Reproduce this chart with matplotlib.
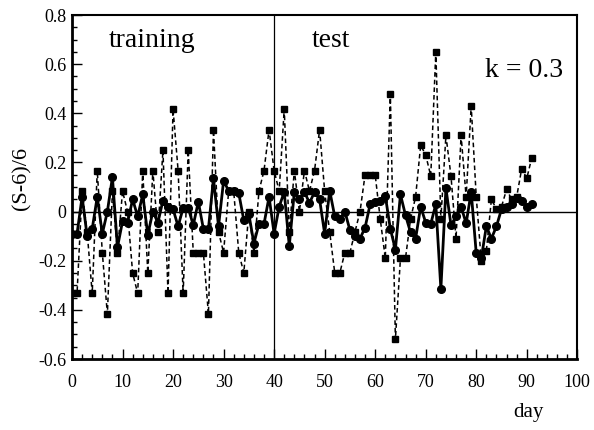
import numpy as np
import matplotlib
matplotlib.use("Agg")
import matplotlib.pyplot as plt
from matplotlib.ticker import MultipleLocator, FixedLocator, FixedFormatter

plt.rcParams['font.family'] = ['Liberation Serif', 'DejaVu Serif']
plt.rcParams['axes.unicode_minus'] = False

# ---------------------------------------------------------------
# datos: (S-6)/6 por dia
# ---------------------------------------------------------------
days = np.arange(0, 92)

# serie real (cuadrados, linea discontinua)
observed = [
    -0.333, -0.333, 0.083, -0.083, -0.333, 0.167, -0.167, -0.417, 0.083, -0.167,
    0.083, 0.0, -0.25, -0.333, 0.167, -0.25, 0.167, -0.083, 0.25, -0.333,
    0.417, 0.167, -0.333, 0.25, -0.167, -0.167, -0.167, -0.417, 0.333, -0.083,
    -0.167, 0.083, 0.083, -0.167, -0.25, 0.0, -0.167, 0.083, 0.167, 0.333,
    0.167, 0.083, 0.417, -0.083, 0.167, 0.0, 0.167, 0.083, 0.167, 0.333,
    0.083, -0.083, -0.25, -0.25, -0.167, -0.167, -0.083, 0.0, 0.15, 0.15,
    0.15, -0.03, -0.19, 0.48, -0.52, -0.19, -0.19, -0.03, 0.06, 0.27,
    0.23, 0.145, 0.65, -0.03, 0.31, 0.145, -0.11, 0.31, 0.06, 0.43,
    0.06, -0.2, -0.16, 0.05, 0.01, 0.02, 0.09, 0.05, 0.06, 0.175,
    0.135, 0.22,
]

# serie del modelo (circulos, linea continua)
model = [
    -0.09, -0.09, 0.06, -0.10, -0.07, 0.06, -0.09, 0.0, 0.14, -0.145,
    -0.04, -0.045, 0.05, -0.02, 0.07, -0.095, 0.0, -0.045, 0.045, 0.02,
    0.01, -0.06, 0.015, 0.015, -0.055, 0.04, -0.07, -0.07, 0.135, -0.06,
    0.125, 0.085, 0.085, 0.075, -0.035, -0.01, -0.13, -0.05, -0.05, 0.06,
    -0.09, 0.02, 0.08, -0.14, 0.08, 0.05, 0.08, 0.035, 0.08, 0.05,
    -0.09, 0.085, -0.02, -0.03, 0.0, -0.075, -0.1, -0.11, -0.065, 0.03,
    0.04, 0.045, 0.065, -0.07, -0.155, 0.07, -0.015, -0.085, -0.11, 0.02,
    -0.045, -0.05, 0.03, -0.315, 0.095, -0.055, -0.02, 0.02, -0.048, 0.08,
    -0.17, -0.19, -0.06, -0.11, -0.06, 0.01, 0.02, 0.03, 0.055, 0.045,
    0.02, 0.03,
]

y_ticks = [-0.6, -0.4, -0.2, 0.0, 0.2, 0.4, 0.6, 0.8]
y_labels = ['-0.6', '-0.4', '-0.2', '0', '0.2', '0.4', '0.6', '0.8']
split_day = 40

# ---------------------------------------------------------------
# figura
# ---------------------------------------------------------------
fig = plt.figure(figsize=(5.94, 4.30), dpi=100)
ax = fig.add_axes([0.1212, 0.1651, 0.8507, 0.8000])

ax.plot(days, observed, color='k', lw=1.1, ls=(0, (3, 2)),
        marker='s', ms=5, mfc='k', mec='k', zorder=3)
ax.plot(days, model, color='k', lw=2.0, ls='-',
        marker='o', ms=5.5, mfc='k', mec='k', zorder=4)

ax.axhline(0, color='k', lw=1.0, zorder=2)
ax.axvline(split_day, color='k', lw=0.9, zorder=2)

ax.set_xlim(0, 100)
ax.set_ylim(-0.6, 0.8)
ax.xaxis.set_major_locator(MultipleLocator(10))
ax.xaxis.set_minor_locator(MultipleLocator(2))
ax.yaxis.set_major_locator(FixedLocator(y_ticks))
ax.yaxis.set_major_formatter(FixedFormatter(y_labels))
ax.yaxis.set_minor_locator(MultipleLocator(0.05))

ax.tick_params(which='both', direction='in', top=False, right=False,
               labelsize=13, width=1.0)
ax.tick_params(which='major', length=7)
ax.tick_params(which='minor', length=3.5)
ax.tick_params(axis='x', pad=11)
ax.tick_params(axis='y', pad=4)

for side in ['left', 'bottom']:
    ax.spines[side].set_linewidth(2.0)
for side in ['top', 'right']:
    ax.spines[side].set_linewidth(1.5)

ax.text(0.158, 0.927, 'training', transform=ax.transAxes,
        ha='center', va='center', fontsize=20)
ax.text(0.512, 0.927, 'test', transform=ax.transAxes,
        ha='center', va='center', fontsize=20)
ax.text(0.894, 0.84, 'k = 0.3', transform=ax.transAxes,
        ha='center', va='center', fontsize=20)

fig.text(528 / 594, 1 - 413 / 430, 'day', ha='center', va='center', fontsize=15)
fig.text(22 / 594, 1 - 178 / 430, '(S-6)/6', rotation=90,
         ha='center', va='center', fontsize=16)

fig.savefig('out.png', dpi=100)
